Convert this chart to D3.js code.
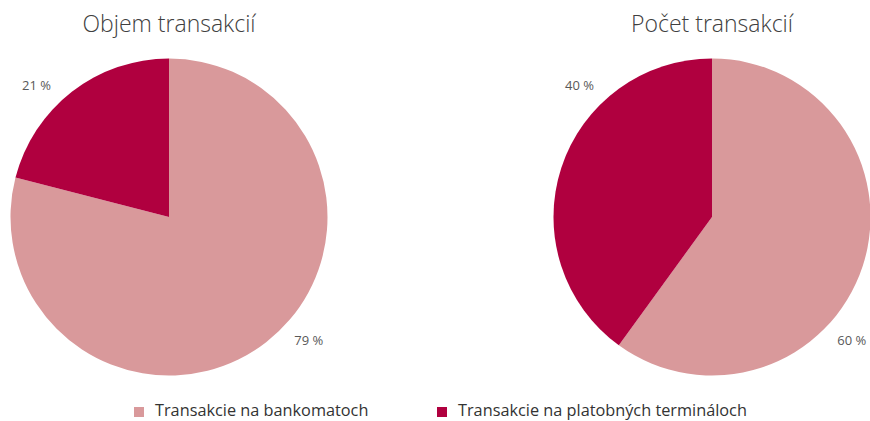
<!DOCTYPE html>
<html><head><meta charset="utf-8">
<script src="https://cdn.jsdelivr.net/npm/d3@7"></script>
<style>
html,body{margin:0;padding:0;background:#fff;}
svg{display:block;font-family:"Open Sans",sans-serif;}
</style></head>
<body>
<svg id="c" width="870" height="421"></svg>
<script>
const categories = ["Transakcie na bankomatoch", "Transakcie na platobných termináloch"];
const chartTitles = ["Objem transakcií", "Počet transakcií"];
const volumeValues = [79, 21];
const countValues = [60, 40];
const colors = ["#d9999b", "#b0003f"];

const svg = d3.select("#c");
const R = 158.5;
const cy = 217;
const centers = [169, 712];
const datasets = [volumeValues, countValues];

const pie = d3.pie().sort(null).value(d => d);
const arc = d3.arc().innerRadius(0).outerRadius(R);
const color = d3.scaleOrdinal().domain(categories).range(colors);

// fixed label angles (radians, clockwise from top) per slice index, like the reference
const labelAngles = [131.5 * Math.PI / 180, -45.2 * Math.PI / 180];
const labelR = R * 1.178;

datasets.forEach((vals, i) => {
  const g = svg.append("g").attr("transform", `translate(${centers[i]},${cy})`);
  const arcs = pie(vals);
  g.selectAll("path").data(arcs).enter().append("path")
    .attr("d", arc)
    .attr("fill", (d, j) => color(categories[j]));
  g.selectAll("text.lbl").data(arcs).enter().append("text")
    .attr("class", "lbl")
    .attr("x", (d, j) => labelR * Math.sin(labelAngles[j]))
    .attr("y", (d, j) => -labelR * Math.cos(labelAngles[j]))
    .attr("dy", "0.35em")
    .attr("text-anchor", "middle")
    .attr("font-size", 13)
    .attr("fill", "#595959")
    .text(d => d.data + " %");
  svg.append("text")
    .attr("x", centers[i])
    .attr("y", 32)
    .attr("text-anchor", "middle")
    .attr("font-size", 23)
    .attr("font-weight", 300)
    .attr("fill", "#404040")
    .text(chartTitles[i]);
});

// legend
const legendX = [134, 437];
const lg = svg.selectAll("g.leg").data(categories).enter().append("g")
  .attr("class", "leg")
  .attr("transform", (d, i) => `translate(${legendX[i]},0)`);
lg.append("rect").attr("x", 0).attr("y", 407).attr("width", 10).attr("height", 10)
  .attr("fill", d => color(d));
lg.append("text").attr("x", 21).attr("y", 416)
  .attr("font-size", 16.3).attr("fill", "#333")
  .text(d => d);
</script>
</body></html>
